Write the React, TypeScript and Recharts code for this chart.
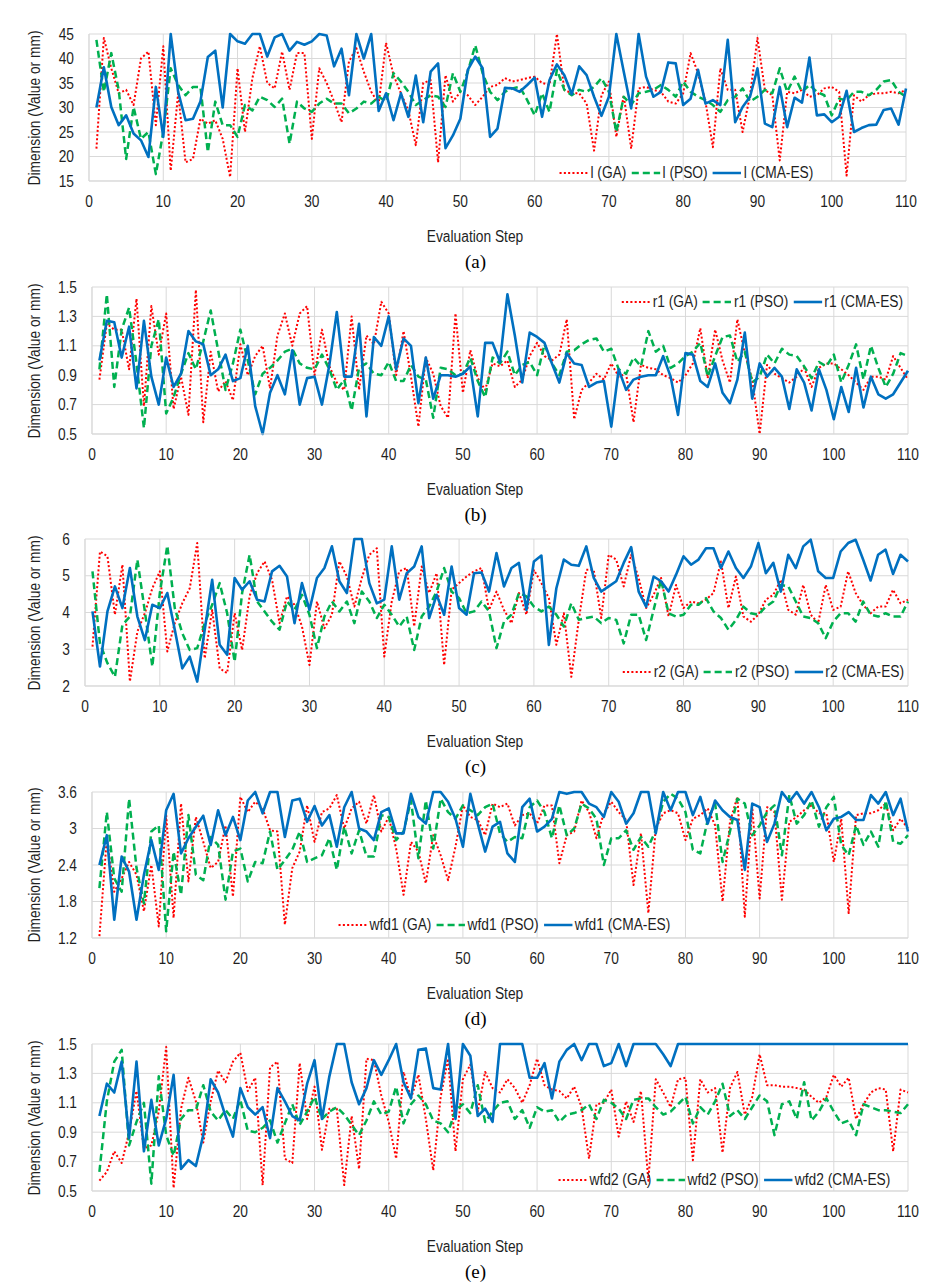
import { LineChart, Line, XAxis, YAxis, CartesianGrid } from "recharts";

const FONT = "'Liberation Sans', Arial, sans-serif";
const SERIF = "'Liberation Serif', 'Times New Roman', serif";
const SX = 0.86; // narrow look of the original sans font
const GRID = "#d9d9d9";
const INK = "#1f1f1f";

const xTicks = [0, 10, 20, 30, 40, 50, 60, 70, 80, 90, 100, 110];
const algos = ["GA", "PSO", "CMA-ES"];
const colors = ["#ff0000", "#00b050", "#0070c0"];
const dashes = ["2 2.2", "7 4", undefined];
const legendDashes = ["2.4 2.6", "8.2 4.6", undefined];
const widths = [2, 2.5, 2.6];

// panel (a) l
const lGA = [
  21.6, 44.2, 38, 32.9, 33.6, 30.5, 40, 41.4, 26.4, 42.5,
  17.1, 32.9, 18.8, 19.5, 27.7, 26.7, 27.4, 23.6, 15.8, 38,
  25, 36, 42.5, 35, 33.9, 41.4, 33.6, 41.1, 41.1, 23.6,
  38, 35, 31.2, 27, 39.4, 42.1, 37.3, 33.2, 30.8, 43.2,
  36.6, 32.9, 29.4, 22.3, 35, 35.6, 18.8, 36.6, 31.2, 33.2,
  32.5, 30.5, 32.2, 34.2, 34.6, 36, 35.3, 35.6, 36, 36.3,
  35, 34.6, 45, 33.6, 32.9, 32.9, 30.8, 21.2, 32.5, 35.3,
  24, 32.5, 21.6, 33.9, 34.2, 33.6, 33.2, 31.2, 30.8, 32.9,
  41.1, 37, 31.2, 21.9, 38, 33.6, 33.6, 25, 32.5, 44.2,
  33.6, 32.5, 19.2, 33.2, 32.9, 33.6, 32.2, 32.5, 33.9, 34.2,
  33.2, 16.1, 32.5, 31.2, 32.5, 32.9, 32.9, 33.2, 32.9, 33.6,
];
const lPSO = [
  43.8, 33.2, 41.1, 33.6, 19.5, 30.1, 23.6, 25, 16.4, 25,
  38, 34.6, 32.5, 34.2, 34.2, 20.9, 31.2, 26.4, 26.4, 24,
  30.5, 29.4, 32.2, 31.5, 30.1, 31.8, 22.6, 31.2, 29.8, 29.1,
  30.8, 31.8, 30.8, 30.8, 28.8, 29.8, 31.2, 30.8, 32.2, 31.2,
  37, 35.3, 33.2, 30.5, 31.5, 32.5, 32.2, 30.1, 37, 33.2,
  37.3, 42.7, 37, 33.2, 31.5, 33.2, 33.9, 34.2, 31.5, 28.4,
  32.9, 29.1, 37.7, 33.6, 32.5, 33.6, 33.2, 34.2, 36, 33.2,
  25, 32.2, 30.5, 32.9, 33.2, 33.6, 34.6, 33.6, 32.2, 35.3,
  33.2, 32.2, 31.5, 30.5, 29.1, 31.5, 32.2, 33.9, 31.2, 32.2,
  33.6, 32.9, 38, 33.2, 36.3, 33.2, 34.6, 33.2, 32.5, 28.4,
  31.8, 31.5, 33.2, 33.2, 32.5, 33.6, 35.3, 35.6, 33.2, 32.2,
];
const lCMA = [
  30, 38.2, 30.1, 26.4, 28.4, 24.7, 23.3, 19.9, 34.2, 24,
  45, 33.2, 27.4, 27.7, 31.2, 40.3, 41.6, 30, 45, 43.5,
  43, 45, 45, 40.4, 44.3, 45, 41.6, 43.4, 42.8, 43.5,
  45, 44.7, 38.4, 42, 32.5, 45, 40, 45, 29.3, 32.9,
  27.4, 32.9, 28.1, 36.5, 27, 37.3, 39, 21.7, 24.3, 27.7,
  37.7, 40.4, 38, 24, 25.7, 34, 33.9, 33.2, 34.6, 36.1,
  28.1, 35.6, 38.8, 36.6, 32.7, 38.4, 36.6, 32.2, 28.3, 32.2,
  45, 37.3, 29.8, 45, 36.3, 32.2, 33.2, 39.2, 39, 30.5,
  31.8, 37.7, 30.8, 31.5, 30.5, 43.8, 27, 30.1, 32.2, 38,
  26.7, 26, 34.2, 26, 32, 31, 40.2, 28.4, 28.6, 27,
  28.1, 33.4, 25, 25.8, 26.4, 26.5, 29.5, 29.8, 26.5, 33.9,
];

// panel (b) r1
const r1GA = [
  0.87, 1.25, 1.21, 1.21, 0.94, 1.42, 0.69, 1.37, 1.04, 1.32,
  0.67, 0.89, 0.63, 1.48, 0.58, 1.06, 0.79, 0.86, 0.73, 1.11,
  0.9, 1.03, 1.1, 0.81, 1.17, 1.32, 1.1, 1.32, 1.37, 0.9,
  1.21, 0.96, 0.85, 0.8, 1.3, 0.8, 1.17, 1.11, 1.4, 1.32,
  0.9, 1.2, 0.89, 0.55, 1.02, 0.91, 0.69, 0.61, 1.32, 0.78,
  1.07, 0.88, 0.8, 0.98, 0.96, 1.0, 0.82, 0.87, 1.03, 1.12,
  1.03, 1.0, 1.04, 1.28, 0.6, 0.8, 0.85, 0.91, 0.87, 0.98,
  0.89, 0.91, 0.58, 0.97, 0.95, 0.94, 0.9, 0.88, 0.85, 0.9,
  0.98, 1.22, 0.88, 1.21, 1.0, 0.85, 1.28, 1.05, 0.87, 0.5,
  0.97, 0.91, 0.88, 0.85, 0.89, 0.95, 0.82, 0.95, 0.98, 0.98,
  0.94, 0.9, 0.85, 0.8, 0.89, 0.89, 0.87, 1.03, 0.95, 0.87,
];
const r1PSO = [
  0.94, 1.45, 0.82, 1.21, 1.36, 0.98, 0.54, 1.1, 1.28, 0.64,
  0.75, 0.91, 1.05, 0.94, 1.13, 1.34, 1.07, 0.8, 0.98, 1.21,
  1.0, 0.77, 0.91, 0.95, 1.0, 1.06, 1.08, 0.98, 0.95, 0.94,
  1.04, 0.94, 0.8, 0.87, 0.66, 0.95, 0.98, 0.91, 0.9, 0.99,
  0.86, 0.86, 0.97, 0.89, 0.87, 0.61, 0.95, 0.94, 0.9, 0.91,
  1.02, 0.86, 0.75, 1.02, 0.98, 1.06, 0.9, 0.97, 0.99, 0.9,
  1.11, 0.98, 0.9, 1.06, 1.07, 1.11, 1.14, 1.15, 1.06, 1.08,
  0.94, 0.91, 1.02, 0.96, 1.2, 1.06, 1.1, 0.95, 0.98, 1.03,
  1.06, 1.12, 0.89, 1.03, 1.16, 1.17, 0.99, 1.06, 0.85, 0.89,
  1.04, 0.98, 1.08, 1.04, 1.03, 0.96, 0.88, 0.99, 0.96, 1.04,
  0.85, 0.97, 1.11, 0.87, 1.1, 0.95, 0.82, 0.91, 1.05, 1.03,
];
const r1CMA = [
  1.0, 1.27, 1.26, 1.02, 1.23, 0.81, 1.27, 0.89, 0.7, 1.02,
  0.82, 0.91, 1.2, 1.13, 1.11, 0.9, 0.94, 1.04, 0.86, 0.88,
  1.1, 0.69, 0.5, 0.78, 0.9, 0.77, 1.07, 0.7, 0.88, 0.89,
  0.7, 0.97, 1.33, 0.89, 0.89, 1.25, 0.62, 1.16, 1.1, 1.3,
  0.94, 1.15, 1.1, 0.71, 1.02, 0.74, 0.9, 0.9, 0.89, 0.91,
  0.96, 0.62, 1.12, 1.12, 0.99, 1.45, 1.17, 0.85, 1.19, 1.16,
  1.12, 0.98, 0.85, 1.05, 0.98, 0.97, 0.82, 0.85, 0.86, 0.55,
  0.94, 0.8, 0.87, 0.89, 0.9, 0.9, 1.03, 0.89, 0.63, 1.05,
  1.04, 0.86, 0.82, 0.98, 0.78, 0.71, 0.87, 1.19, 0.74, 0.98,
  0.89, 0.95, 0.89, 0.67, 0.94, 0.85, 0.66, 0.94, 0.8, 0.6,
  0.82, 0.65, 0.95, 0.68, 0.89, 0.77, 0.74, 0.77, 0.85, 0.93,
];

// panel (c) r2
const r2GA = [
  3.07, 5.66, 5.53, 3.94, 5.3, 2.12, 3.48, 3.98, 4.66, 5.12,
  2.94, 3.71, 4.25, 4.66, 5.89, 2.75, 4.07, 2.48, 2.35, 3.98,
  2.98, 4.44, 5.07, 5.39, 4.89, 3.71, 4.44, 4.21, 3.62, 2.57,
  4.3, 3.57, 3.94, 5.39, 4.98, 4.16, 4.94, 5.57, 5.75, 2.8,
  4.3, 5.12, 5.21, 3.62, 5.25, 4.53, 5.07, 2.57, 4.62, 4.8,
  4.98, 5.12, 5.21, 4.07, 4.57, 4.07, 3.71, 4.53, 3.94, 5.16,
  4.8, 4.39, 3.12, 3.98, 2.25, 3.8, 5.16, 5.16, 3.85, 5.57,
  5.44, 4.71, 5.57, 4.94, 4.12, 4.48, 4.94, 3.89, 4.75, 4.12,
  4.3, 4.25, 4.35, 4.53, 5.39, 4.12, 4.98, 3.89, 3.75, 3.94,
  4.35, 4.48, 4.89, 4.07, 3.94, 4.75, 3.94, 3.71, 4.75, 4.07,
  4.16, 5.12, 4.53, 4.21, 3.98, 4.16, 4.16, 4.62, 4.25, 4.35,
];
const r2PSO = [
  5.12, 3.16, 2.62, 2.25, 3.66, 3.89, 5.44, 4.03, 2.53, 4.53,
  5.82, 4.12, 3.44, 2.98, 3.03, 3.71, 4.21, 4.8, 3.98, 2.66,
  4.53, 5.57, 4.3, 4.03, 3.75, 3.53, 4.3, 4.07, 4.48, 3.94,
  3.03, 3.89, 4.3, 4.03, 4.3, 3.71, 4.57, 4.3, 3.85, 4.21,
  3.94, 3.62, 3.89, 2.98, 3.89, 4.16, 4.57, 5.21, 4.57, 4.39,
  3.98, 4.03, 4.3, 4.03, 3.03, 3.75, 3.94, 4.53, 4.44, 4.16,
  4.03, 4.16, 3.94, 3.62, 4.25, 3.8, 3.85, 3.89, 3.71, 3.85,
  3.8, 3.16, 3.94, 3.94, 3.25, 4.07, 4.89, 3.98, 3.89, 3.94,
  4.21, 4.21, 4.39, 4.03, 3.85, 3.53, 3.8, 4.16, 3.98, 3.94,
  4.16, 4.3, 4.75, 4.71, 4.3, 3.89, 3.85, 3.71, 3.3, 3.75,
  3.98, 3.98, 3.75, 4.3, 3.94, 3.89, 3.98, 3.89, 3.89, 4.3,
];
const r2CMA = [
  4.03, 2.53, 4.03, 4.71, 4.12, 5.21, 3.89, 3.25, 4.21, 4.12,
  4.53, 3.53, 2.48, 2.8, 2.12, 3.53, 4.89, 3.12, 2.85, 4.94,
  4.62, 4.85, 4.35, 4.3, 5.12, 5.27, 4.98, 3.71, 4.8, 4.07,
  4.94, 5.21, 5.8, 4.85, 4.53, 6, 6, 4.8, 4.25, 4.35,
  5.8, 4.35, 5.07, 5.25, 5.8, 3.85, 4.48, 3.94, 5.25, 4.12,
  3.94, 5.07, 5.09, 4.57, 5.62, 4.71, 5.21, 5.35, 4.07, 5.39,
  5.55, 3.12, 4.66, 5.44, 5.3, 5.27, 5.8, 4.94, 4.57, 4.71,
  4.85, 5.35, 5.78, 4.57, 4.16, 4.98, 4.85, 4.57, 5.03, 5.53,
  5.3, 5.44, 5.75, 5.75, 5.21, 5.66, 5.21, 4.94, 5.25, 5.89,
  5.07, 5.35, 4.57, 5.57, 5.21, 5.8, 5.98, 5.12, 4.94, 4.94,
  5.66, 5.89, 5.98, 5.44, 4.87, 5.57, 5.71, 5.05, 5.57, 5.39,
];

// panel (d) wfd1
const wfd1GA = [
  1.23, 2.84, 1.96, 2.18, 2.45, 2.24, 1.64, 2.4, 1.39, 3.22,
  1.53, 3.41, 2.13, 3.19, 2.78, 2.35, 2.45, 3.05, 1.88, 3.52,
  3.27, 3.44, 3.33, 2.97, 2.95, 1.42, 2.35, 2.62, 3.38, 2.78,
  3.27, 3.33, 3.55, 3.0, 3.33, 3.44, 3.08, 3.55, 2.95, 3.19,
  2.67, 1.91, 2.78, 2.62, 2.1, 2.89, 2.56, 2.15, 2.7, 3.38,
  3.19, 3.14, 2.89, 3.41, 3.35, 3.41, 3.05, 3.22, 3.25, 3.08,
  3.38, 3.38, 2.43, 2.89, 2.95, 3.46, 3.27, 2.84, 3.25, 3.44,
  3.27, 3.14, 2.07, 2.92, 1.61, 3.0, 3.25, 3.3, 3.25, 2.81,
  3.16, 3.22, 3.33, 3.05, 1.8, 3.11, 3.52, 1.55, 3.35, 1.85,
  3.35, 3.27, 1.83, 3.11, 3.19, 3.3, 3.38, 3.25, 3.25, 2.45,
  3.16, 1.61, 3.22, 3.25, 3.25, 3.3, 3.41, 2.97, 3.16, 3.0,
];
const wfd1PSO = [
  2.02, 3.27, 2.18, 1.96, 3.49, 2.35, 1.77, 2.95, 3.05, 1.31,
  2.62, 1.91, 3.22, 2.24, 2.15, 2.86, 2.73, 1.83, 2.62, 2.67,
  2.13, 2.45, 2.43, 2.95, 2.32, 2.48, 2.65, 2.95, 2.45, 2.51,
  2.56, 2.84, 2.32, 3.03, 2.59, 2.97, 2.54, 2.54, 3.22, 3.19,
  2.81, 2.95, 3.46, 2.51, 3.46, 2.67, 3.49, 3.27, 3.16, 3.38,
  3.3, 3.22, 3.35, 3.41, 2.92, 2.78, 2.86, 2.84, 3.35, 3.46,
  3.27, 2.84, 3.38, 2.89, 3.0, 3.41, 3.33, 3.16, 2.4, 2.84,
  2.84, 2.97, 2.65, 2.86, 2.7, 2.97, 3.44, 3.57, 3.49, 3.27,
  2.65, 2.59, 3.14, 3.41, 2.45, 2.95, 3.49, 3.41, 2.89, 3.05,
  3.27, 3.38, 2.56, 3.55, 3.08, 3.22, 3.46, 3.03, 3.35, 3.52,
  2.73, 2.56, 3.05, 2.73, 2.95, 2.7, 3.46, 2.78, 2.75, 2.89,
];
const wfd1CMA = [
  2.4, 2.89, 1.5, 2.54, 2.29, 1.5, 2.24, 2.81, 2.32, 3.3,
  3.57, 2.59, 2.84, 3.03, 3.21, 2.73, 3.3, 2.89, 3.19, 2.81,
  3.46, 3.6, 3.25, 3.6, 3.6, 2.86, 3.46, 3.49, 3.11, 3.37,
  3.05, 3.22, 2.7, 3.35, 3.6, 3.0, 2.95, 2.81, 3.27, 3.33,
  2.92, 2.92, 3.57, 3.19, 3.08, 3.6, 3.6, 3.44, 3.16, 2.7,
  3.57, 3.08, 2.62, 3.03, 3.11, 2.59, 2.45, 3.35, 3.49, 2.95,
  3.03, 3.16, 3.6, 3.57, 3.6, 3.6, 3.41, 3.35, 3.19, 3.6,
  3.44, 3.08, 3.25, 3.6, 3.6, 2.92, 3.6, 3.3, 3.6, 3.6,
  3.22, 3.52, 3.08, 3.46, 3.3, 3.19, 3.14, 2.32, 3.41, 3.35,
  2.78, 3.08, 3.6, 3.44, 3.6, 3.41, 3.6, 3.35, 2.97, 3.16,
  3.19, 3.27, 3.14, 3.14, 3.55, 3.41, 3.6, 3.22, 3.49, 2.95,
];

// panel (e) wfd2
const wfd2GA = [
  0.57, 0.63, 0.77, 0.69, 0.9, 1.18, 0.79, 0.81, 1.04, 1.48,
  0.52, 1.06, 1.27, 1.11, 0.83, 1.11, 1.32, 1.24, 1.38, 1.44,
  1.18, 1.27, 0.54, 1.34, 1.38, 0.72, 0.69, 1.37, 0.99, 1.21,
  0.78, 1.06, 1.06, 0.54, 1.01, 0.65, 1.4, 1.39, 1.15, 0.97,
  0.72, 1.31, 1.13, 1.29, 0.99, 0.64, 1.14, 1.4, 0.77, 1.26,
  1.36, 1.04, 1.31, 1.2, 1.17, 1.26, 1.2, 1.1, 1.22, 1.4,
  1.22, 1.19, 1.18, 1.13, 1.21, 1.07, 0.72, 1.09, 1.1, 1.19,
  0.87, 1.11, 0.97, 1.18, 0.57, 1.26, 1.17, 1.07, 1.26, 1.27,
  0.71, 1.26, 1.17, 1.2, 0.76, 1.2, 1.31, 1.02, 1.14, 1.43,
  1.22, 1.22, 1.21, 1.21, 1.2, 1.19, 1.14, 1.1, 1.14, 1.29,
  1.21, 1.27, 0.99, 1.09, 1.17, 1.2, 1.19, 0.77, 1.19, 1.17,
];
const wfd2PSO = [
  0.63, 1.11, 1.38, 1.46, 0.81, 0.97, 1.1, 0.55, 1.28, 0.88,
  0.74, 0.99, 1.05, 1.05, 1.22, 1.04, 0.98, 1.05, 0.99, 1.12,
  0.91, 0.9, 0.93, 0.98, 0.83, 0.96, 1.09, 0.95, 1.04, 1.14,
  0.99, 1.04, 1.07, 1.02, 0.95, 0.88, 0.98, 1.11, 1.02, 1.04,
  1.21, 0.96, 1.09, 1.15, 1.09, 0.98, 0.96, 0.9, 1.05, 1.09,
  1.03, 1.22, 0.97, 1.04, 1.1, 1.11, 0.99, 1.05, 0.93, 1.07,
  1.04, 1.05, 0.97, 1.02, 1.03, 1.05, 1.09, 0.99, 1.12, 1.1,
  1.06, 0.99, 1.12, 1.13, 1.13, 1.07, 1.02, 1.04, 1.09, 1.14,
  0.96, 1.07, 1.02, 1.11, 1.23, 1.01, 1.05, 0.99, 1.07, 1.15,
  1.11, 0.88, 1.09, 1.11, 0.99, 1.24, 0.98, 1.04, 1.13, 1.04,
  0.96, 0.98, 0.88, 1.09, 1.07, 1.05, 1.05, 1.04, 1.03, 1.09,
];
const wfd2CMA = [
  1.01, 1.23, 1.17, 1.38, 0.86, 1.38, 0.77, 1.12, 0.81, 0.99,
  1.29, 0.65, 0.71, 0.67, 0.88, 1.26, 1.17, 1.01, 0.87, 1.2,
  1.07, 1.02, 1.07, 0.86, 1.2, 1.11, 1.01, 0.98, 1.23, 1.39,
  0.99, 1.28, 1.5, 1.5, 1.24, 1.09, 1.2, 1.39, 1.29, 1.39,
  1.5, 1.24, 1.13, 1.46, 1.47, 1.2, 1.19, 1.5, 0.99, 1.5,
  1.42, 1.01, 1.06, 0.97, 1.5, 1.5, 1.5, 1.5, 1.27, 1.27,
  1.37, 1.13, 1.38, 1.46, 1.5, 1.39, 1.5, 1.5, 1.35, 1.37,
  1.5, 1.35, 1.5, 1.5, 1.5, 1.5, 1.43, 1.35, 1.5, 1.5,
  1.5, 1.5, 1.5, 1.5, 1.5, 1.5, 1.5, 1.5, 1.5, 1.5,
  1.5, 1.5, 1.5, 1.5, 1.5, 1.5, 1.5, 1.5, 1.5, 1.5,
  1.5, 1.5, 1.5, 1.5, 1.5, 1.5, 1.5, 1.5, 1.5, 1.5,
];

type PanelCfg = {
  tag: string; name: string; series: number[][];
  yTicks: number[]; top: number; bottom: number; left: number; right: number;
  legendCx: number; legendCy: number;
};

const panels: PanelCfg[] = [
  { tag: "(a)", name: "l", series: [lGA, lPSO, lCMA], yTicks: [15, 20, 25, 30, 35, 40, 45],
    top: 34, bottom: 181, left: 89, right: 906, legendCx: 686, legendCy: 173 },
  { tag: "(b)", name: "r1", series: [r1GA, r1PSO, r1CMA], yTicks: [0.5, 0.7, 0.9, 1.1, 1.3, 1.5],
    top: 287, bottom: 434, left: 92, right: 908, legendCx: 762, legendCy: 302 },
  { tag: "(c)", name: "r2", series: [r2GA, r2PSO, r2CMA], yTicks: [2, 3, 4, 5, 6],
    top: 539, bottom: 686, left: 85, right: 908, legendCx: 763, legendCy: 672 },
  { tag: "(d)", name: "wfd1", series: [wfd1GA, wfd1PSO, wfd1CMA], yTicks: [1.2, 1.8, 2.4, 3, 3.6],
    top: 792, bottom: 938, left: 92, right: 908, legendCx: 504, legendCy: 925 },
  { tag: "(e)", name: "wfd2", series: [wfd2GA, wfd2PSO, wfd2CMA], yTicks: [0.5, 0.7, 0.9, 1.1, 1.3, 1.5],
    top: 1044, bottom: 1191, left: 92, right: 908, legendCx: 724, legendCy: 1180 },
];

const XTick = ({ x, y, payload }: any) => (
  <g transform={`translate(${x},${y}) scale(${SX},1)`}>
    <text textAnchor="middle" dy="0.71em" fontFamily={FONT} fontSize={16} fill={INK}>{payload.value}</text>
  </g>
);
const YTick = ({ x, y, payload }: any) => (
  <g transform={`translate(${x},${y}) scale(${SX},1)`}>
    <text textAnchor="end" dy="0.355em" fontFamily={FONT} fontSize={16} fill={INK}>{payload.value}</text>
  </g>
);

function LegendRow({ name, cx, cy }: { name: string; cx: number; cy: number }) {
  return (
    <div style={{ position: "absolute", left: cx, top: cy - 10, height: 20, display: "flex", alignItems: "center",
      whiteSpace: "nowrap", fontFamily: FONT, fontSize: 16, color: INK,
      transform: `translateX(-50%) scaleX(${SX})`, transformOrigin: "center" }}>
      {algos.map((a, k) => (
        <span key={a} style={{ display: "flex", alignItems: "center", marginLeft: k ? 5 : 0 }}>
          <svg width={35} height={10}>
            <line x1={1} y1={5} x2={34} y2={5} stroke={colors[k]} strokeWidth={widths[k]} strokeDasharray={legendDashes[k]} />
          </svg>
          <span style={{ marginLeft: 2 }}>{`${name} (${a})`}</span>
        </span>
      ))}
    </div>
  );
}

function Panel({ p }: { p: PanelCfg }) {
  const data = p.series[0].map((_, i) => ({
    step: i + 1, ga: p.series[0][i], pso: p.series[1][i], cma: p.series[2][i],
  }));
  const plotH = p.bottom - p.top;
  const mid = (p.top + p.bottom) / 2;
  return (
    <>
      <div style={{ position: "absolute", left: 0, top: p.top - 10 }}>
        <LineChart width={942} height={plotH + 40} data={data}
          margin={{ top: 10, right: 942 - p.right, bottom: 0, left: 0 }}>
          <CartesianGrid stroke={GRID} />
          <XAxis dataKey="step" type="number" domain={[0, 110]} ticks={xTicks} interval={0}
            height={30} tickLine={false} axisLine={{ stroke: GRID }} tickSize={0} tickMargin={15} tick={<XTick />} />
          <YAxis type="number" domain={[p.yTicks[0], p.yTicks[p.yTicks.length - 1]]} ticks={p.yTicks}
            interval={0} width={p.left} tickLine={false} axisLine={{ stroke: GRID }} tickSize={0}
            tickMargin={15} tick={<YTick />} />
          {["ga", "pso", "cma"].map((k, j) => (
            <Line key={k} dataKey={k} type="linear" stroke={colors[j]} strokeWidth={widths[j]}
              strokeDasharray={dashes[j]} strokeLinejoin="round" dot={false} activeDot={false}
              isAnimationActive={false} />
          ))}
        </LineChart>
      </div>
      <div style={{ position: "absolute", left: 34.5, top: mid, lineHeight: "18px",
        transform: `translate(-50%, -50%) rotate(-90deg) scaleX(${SX})`,
        whiteSpace: "nowrap", fontFamily: FONT, fontSize: 16, color: INK }}>
        Dimension (Value or mm)
      </div>
      <div style={{ position: "absolute", left: 475, top: p.bottom + 56 - 9, lineHeight: "18px",
        transform: `translateX(-50%) scaleX(${SX})`, whiteSpace: "nowrap", fontFamily: FONT, fontSize: 16, color: INK }}>
        Evaluation Step
      </div>
      <div style={{ position: "absolute", left: 475.5, top: p.bottom + 81 - 11, lineHeight: "22px",
        transform: "translateX(-50%)", fontFamily: SERIF, fontSize: 19, color: "#000" }}>
        {p.tag}
      </div>
      <LegendRow name={p.name} cx={p.legendCx} cy={p.legendCy} />
    </>
  );
}

export default function App() {
  return (
    <div style={{ position: "absolute", left: 0, top: 0, width: 942, height: 1285, background: "#fff", overflow: "hidden" }}>
      {panels.map((p) => <Panel key={p.tag} p={p} />)}
    </div>
  );
}
